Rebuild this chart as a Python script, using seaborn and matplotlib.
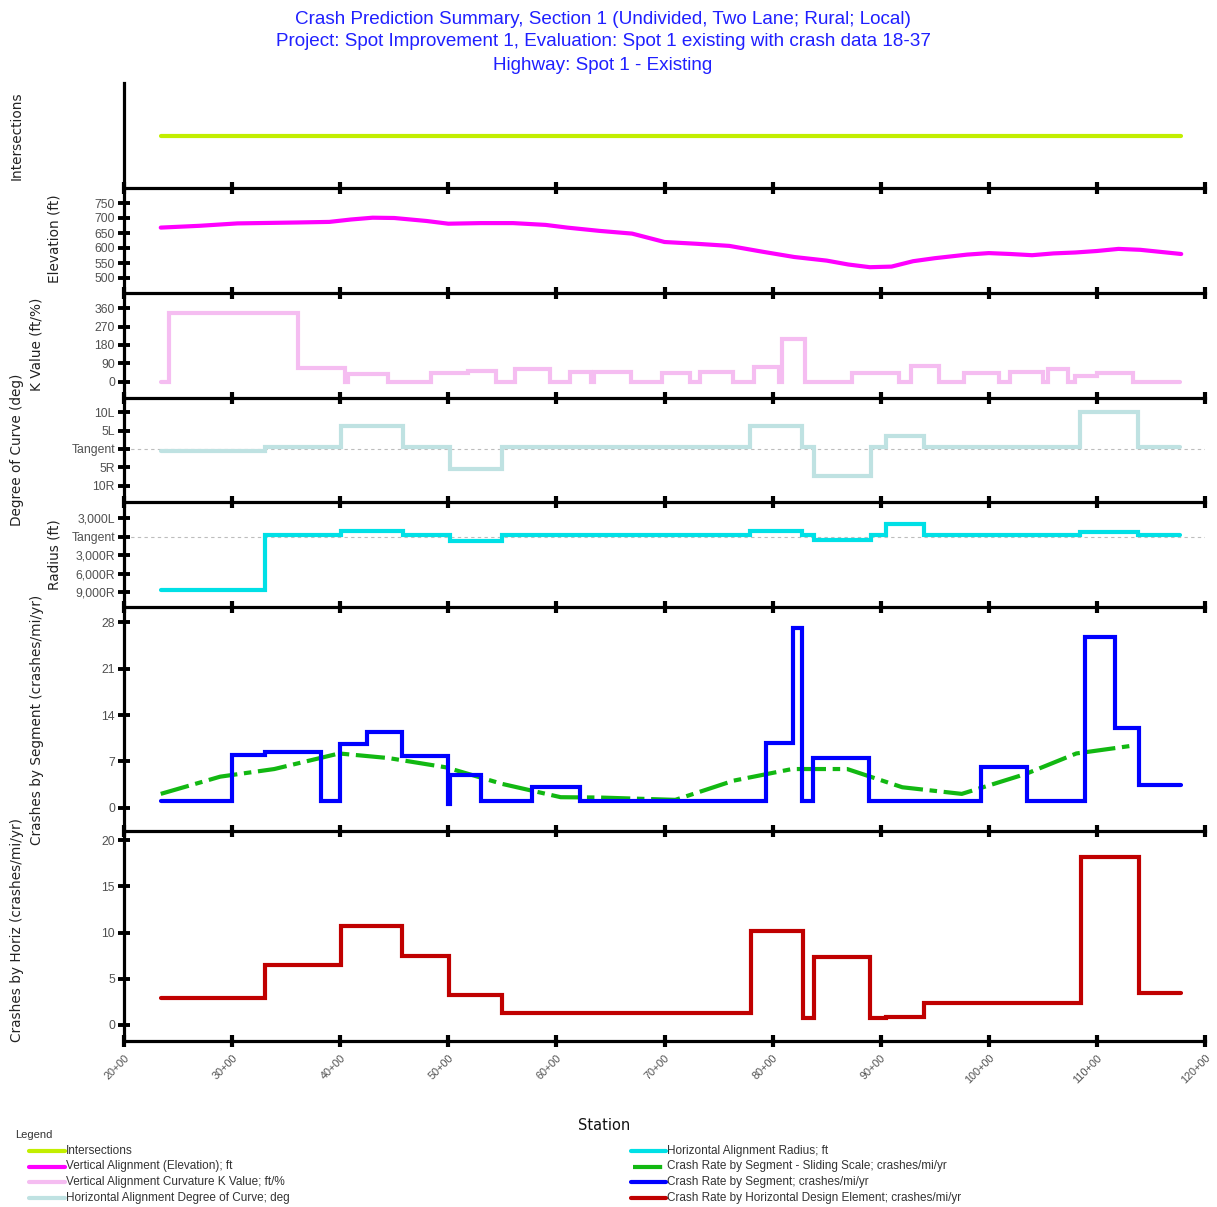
import matplotlib
matplotlib.use("Agg")
import matplotlib.pyplot as plt
from matplotlib.lines import Line2D
import numpy as np
import pandas as pd
import seaborn as sns

# ---------------------------------------------------------------- data
# stations are in units of 100 ft (20 -> 20+00)
sta_start, sta_end = 23.4, 117.8

# vertical alignment (elevation, ft)
elev_sta = [23.4, 27.0, 30.5, 36.0, 39.0, 41.0, 43.0, 45.0, 48.0, 50.0, 53.0, 56.0,
            59.0, 61.0, 64.0, 67.0, 70.0, 73.0, 76.0, 79.0, 82.0, 85.0, 87.0, 89.0,
            91.0, 93.0, 95.0, 98.0, 100.0, 102.0, 104.0, 106.0, 108.0, 110.0, 112.0,
            114.0, 117.8]
elev_val = [668, 674, 682, 685, 687, 695, 701, 700, 690, 681, 683, 683,
            677, 668, 657, 648, 620, 614, 607, 588, 570, 558, 545, 536,
            538, 556, 566, 578, 583, 580, 576, 582, 585, 590, 597, 594, 580]

# vertical curvature K value (ft/%), step values between edges
k_edges = [23.4, 24.2, 36.1, 40.4, 40.7, 44.4, 48.4, 51.8, 54.4, 56.2,
           59.4, 61.3, 63.2, 63.5, 66.9, 69.8, 72.4, 73.3, 76.3, 78.3,
           80.6, 80.9, 83.0, 87.3, 91.7, 92.8, 95.4, 97.7, 100.9, 102.0,
           105.0, 105.5, 107.3, 108.0, 110.0, 113.3, 117.7]
k_vals = [0, 337, 65, 0, 38, 0, 41, 54, 0, 62,
          0, 46, 0, 46, 0, 40, 0, 46, 0, 72,
          0, 210, 0, 40, 0, 75, 0, 40, 0, 46,
          0, 60, 0, 28, 40, 0]

# horizontal alignment: degree of curve (L positive, R negative) and radius
h_edges = [23.4, 33.0, 40.1, 45.8, 50.2, 55.0, 77.9, 82.7, 83.8, 89.1,
           90.5, 94.0, 108.4, 113.8, 117.7]
dc_vals = [-0.6, 0.45, 6.2, 0.45, -5.6, 0.45, 6.2, 0.45, -7.5, 0.45,
           3.4, 0.45, 10.2, 0.45]
rad_vals = [-8600, 280, 1000, 280, -670, 280, 1000, 280, -450, 280,
            2000, 280, 830, 280]

# crash rate by segment (crashes/mi/yr)
seg_edges = [23.4, 30.0, 33.0, 38.2, 40.0, 42.5, 45.7, 50.0, 50.15, 53.0,
             57.7, 62.2, 79.4, 81.9, 82.7, 83.7, 88.9, 99.3, 103.5, 108.9,
             111.7, 113.9, 117.8]
seg_vals = [1.0, 8.0, 8.4, 1.0, 9.7, 11.5, 7.85, 0.6, 4.9, 1.0,
            3.1, 1.0, 9.8, 27.1, 1.0, 7.5, 1.0, 6.1, 1.0, 25.8,
            12.0, 3.4]

# crash rate by segment - sliding scale
ss_sta = [23.4, 28.9, 33.9, 39.9, 44.5, 49.8, 55.0, 60.4, 64.0, 71.0,
          76.4, 81.8, 86.9, 92.0, 97.5, 103.4, 108.1, 113.4]
ss_val = [2.1, 4.7, 5.85, 8.2, 7.5, 6.1, 3.6, 1.6, 1.55, 1.2,
          4.1, 5.85, 5.85, 3.1, 2.1, 5.1, 8.2, 9.4]

# crash rate by horizontal design element
hz_edges = [23.4, 33.0, 40.1, 45.7, 50.1, 55.0, 78.0, 82.8, 83.8, 89.0,
            90.5, 94.0, 108.5, 113.9, 117.8]
hz_vals = [2.9, 6.5, 10.7, 7.5, 3.25, 1.27, 10.2, 0.72, 7.4, 0.72,
           0.9, 2.35, 18.15, 3.44]

x_ticks = list(range(20, 121, 10))
x_labels = [f"{t}+00" for t in x_ticks]

elev_ticks = [500, 550, 600, 650, 700, 750]
k_ticks = [0, 90, 180, 270, 360]
dc_ticks = [-10, -5, 0, 5, 10]
dc_labels = ["10R", "5R", "Tangent", "5L", "10L"]
rad_ticks = [-9000, -6000, -3000, 0, 3000]
rad_labels = ["9,000R", "6,000R", "3,000R", "Tangent", "3,000L"]
seg_ticks = [0, 7, 14, 21, 28]
hz_ticks = [0, 5, 10, 15, 20]

title_lines = [
    "Crash Prediction Summary, Section 1 (Undivided, Two Lane; Rural; Local)",
    "Project: Spot Improvement 1, Evaluation: Spot 1 existing with crash data 18-37",
    "Highway: Spot 1 - Existing",
]

legend_left = [
    ("Intersections", "#c2ee00", "-"),
    ("Vertical Alignment (Elevation); ft", "#ff00ff", "-"),
    ("Vertical Alignment Curvature K Value; ft/%", "#f5bdf1", "-"),
    ("Horizontal Alignment Degree of Curve; deg", "#bfe2e2", "-"),
]
legend_right = [
    ("Horizontal Alignment Radius; ft", "#00e0e6", "-"),
    ("Crash Rate by Segment - Sliding Scale; crashes/mi/yr", "#12b812", "dash"),
    ("Crash Rate by Segment; crashes/mi/yr", "#0000ff", "-"),
    ("Crash Rate by Horizontal Design Element; crashes/mi/yr", "#c00000", "-"),
]

# ---------------------------------------------------------------- style
sns.set_style("white")
plt.rcParams["font.family"] = ["Liberation Sans", "DejaVu Sans"]

W, H = 1217, 1207
fig = plt.figure(figsize=(W / 100, H / 100), dpi=100)

LEFT, RIGHT = 124, 1205
panels = [(83, 188), (188, 293), (293, 398), (398, 502), (502, 607), (607, 831), (831, 1041)]
LW = 3.0
SPINE_W = 2.3
TICK_GRAY = "#505050"
DASH = (0, (7, 1.6, 1.8, 1.6))


def make_ax(top, bot):
    ax = fig.add_axes([LEFT / W, 1 - bot / H, (RIGHT - LEFT) / W, (bot - top) / H])
    ax.set_facecolor("none")
    ax.set_xlim(20, 120)
    for s in ("top", "right"):
        ax.spines[s].set_visible(False)
    for s in ("left", "bottom"):
        ax.spines[s].set_color("black")
        ax.spines[s].set_linewidth(SPINE_W)
        ax.spines[s].set_zorder(5)
    ax.set_xticks(x_ticks)
    ax.set_xticklabels([])
    ax.tick_params(axis="x", bottom=True, top=False, direction="inout", length=9,
                   width=3, color="black")
    ax.tick_params(axis="y", left=True, right=False, direction="inout", length=9,
                   width=2.8, color="black", labelsize=8.8, labelcolor=TICK_GRAY, pad=2)
    ax.grid(False)
    return ax


def step_frame(edges, vals):
    return pd.DataFrame({"station": edges, "value": list(vals) + [vals[-1]]})


def step_plot(ax, edges, vals, color):
    df = step_frame(edges, vals)
    sns.lineplot(data=df, x="station", y="value", ax=ax, color=color, lw=LW,
                 drawstyle="steps-post", estimator=None, sort=False,
                 solid_joinstyle="miter")


axes = [make_ax(t, b) for t, b in panels]
ax_int, ax_el, ax_k, ax_dc, ax_rad, ax_seg, ax_hz = axes

# intersections
df_int = pd.DataFrame({"station": [sta_start, sta_end], "value": [0.0, 0.0]})
sns.lineplot(data=df_int, x="station", y="value", ax=ax_int, color="#c2ee00", lw=LW)
ax_int.set_ylim(-1, 1)
ax_int.set_yticks([])

# elevation
df_el = pd.DataFrame({"station": elev_sta, "value": elev_val})
sns.lineplot(data=df_el, x="station", y="value", ax=ax_el, color="#ff00ff", lw=LW,
             estimator=None, sort=False)
ax_el.set_ylim(450, 800)
ax_el.set_yticks(elev_ticks)

# K value
step_plot(ax_k, k_edges, k_vals, "#f5bdf1")
ax_k.set_ylim(-81, 435)
ax_k.set_yticks(k_ticks)

# degree of curve
ax_dc.axhline(0, color="#bdbdbd", lw=0.8, ls=(0, (3, 3)), zorder=0)
step_plot(ax_dc, h_edges, dc_vals, "#bfe2e2")
ax_dc.set_ylim(-14.5, 13.9)
ax_dc.set_yticks(dc_ticks)
ax_dc.set_yticklabels(dc_labels)

# radius
ax_rad.axhline(0, color="#bdbdbd", lw=0.8, ls=(0, (3, 3)), zorder=0)
step_plot(ax_rad, h_edges, rad_vals, "#00e0e6")
ax_rad.set_ylim(-11370, 5640)
ax_rad.set_yticks(rad_ticks)
ax_rad.set_yticklabels(rad_labels)

# crashes by segment
df_ss = pd.DataFrame({"station": ss_sta, "value": ss_val})
sns.lineplot(data=df_ss, x="station", y="value", ax=ax_seg, color="#12b812", lw=LW,
             estimator=None, sort=False, linestyle=DASH)
step_plot(ax_seg, seg_edges, seg_vals, "#0000ff")
ax_seg.set_ylim(-3.5, 30.3)
ax_seg.set_yticks(seg_ticks)

# crashes by horizontal design element
step_plot(ax_hz, hz_edges, hz_vals, "#c00000")
ax_hz.set_ylim(-1.75, 21)
ax_hz.set_yticks(hz_ticks)
ax_hz.set_xticklabels(x_labels, rotation=45, ha="right", va="top",
                      rotation_mode="anchor", fontsize=7.8, color=TICK_GRAY)
ax_hz.tick_params(axis="x", pad=4)

for ax in axes:
    leg = ax.get_legend()
    if leg is not None:
        leg.remove()
    ax.set_xlim(20, 120)
    ax.set_xlabel("")
    ax.set_ylabel("")


# ---------------------------------------------------------------- text
def ftext(x, y, s, **kw):
    fig.text(x / W, 1 - y / H, s, **kw)


for i, line in enumerate(title_lines):
    ftext(603, 19 + 23 * i, line, ha="center", va="center", fontsize=13.6, color="#2020ff")

ylab = dict(rotation=90, ha="center", va="center", fontsize=9.8, color="#222222",
            family="DejaVu Sans")
ftext(17, 136, "Intersections", **ylab)
ftext(55, 239, "Elevation (ft)", **ylab)
ftext(37, 344, "K Value (ft/%)", **ylab)
ftext(17, 450, "Degree of Curve (deg)", **ylab)
ftext(55, 555, "Radius (ft)", **ylab)
ftext(37, 720, "Crashes by Segment (crashes/mi/yr)", **ylab)
ftext(17, 930, "Crashes by Horiz (crashes/mi/yr)", **ylab)

ftext(604, 1125, "Station", ha="center", va="center", fontsize=10.5, color="#111111",
      family="DejaVu Sans")

# legend block
ftext(15, 1135, "Legend", ha="left", va="center", fontsize=8, color="#333333")


def legend_column(entries, x0, x1, xt):
    for i, (label, color, style) in enumerate(entries):
        y = 1151 + 15.5 * i
        ls = DASH if style == "dash" else "-"
        xs = x0 + 2 if style == "dash" else x0
        fig.add_artist(Line2D([xs / W, x1 / W], [1 - y / H, 1 - y / H], color=color,
                              lw=LW, ls=ls, transform=fig.transFigure))
        ftext(xt, y, label, ha="left", va="center", fontsize=8.5, color="#333333")


legend_column(legend_left, 29, 65, 66)
legend_column(legend_right, 631, 666, 667)

fig.savefig("out.png", dpi=100)
